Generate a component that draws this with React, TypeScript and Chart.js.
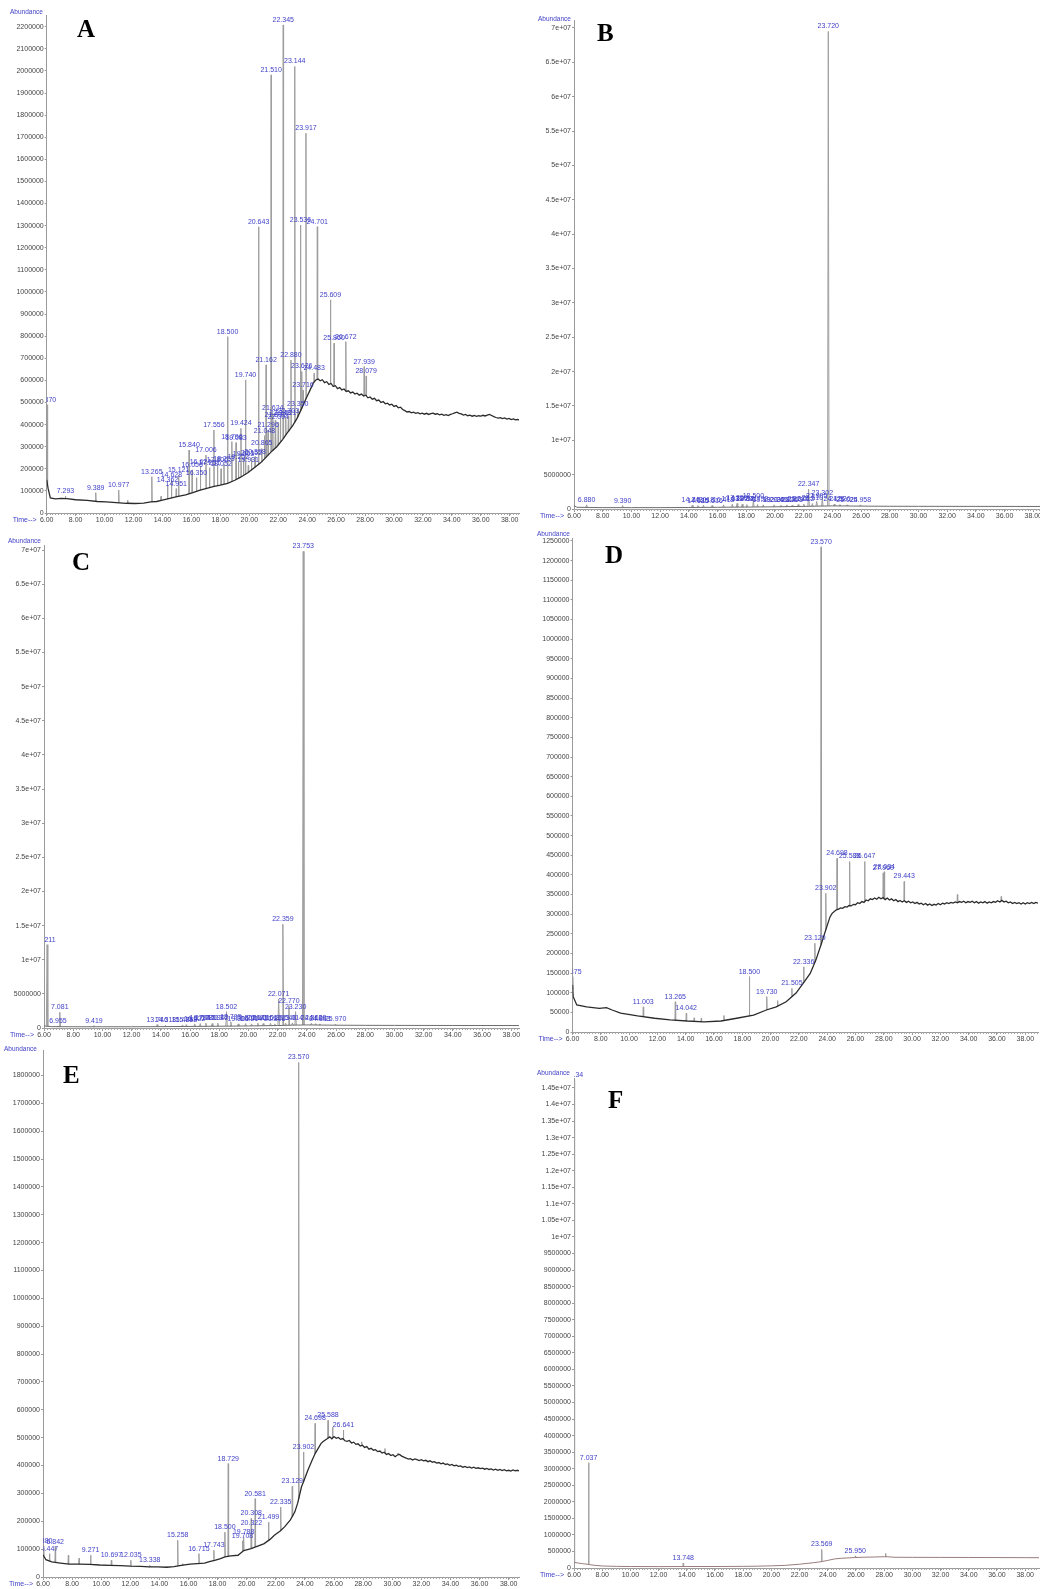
import React, { useEffect, useRef } from 'react';
import { Chart, registerables } from 'chart.js';

Chart.register(...registerables);

// ---------- shared axis data ----------
const xTickVals = [6, 8, 10, 12, 14, 16, 18, 20, 22, 24, 26, 28, 30, 32, 34, 36, 38];
const xTickLabels = ['6.00', '8.00', '10.00', '12.00', '14.00', '16.00', '18.00', '20.00', '22.00', '24.00', '26.00', '28.00', '30.00', '32.00', '34.00', '36.00', '38.00'];

// ---------- Panel A ----------
const yTicksA = [0, 100000, 200000, 300000, 400000, 500000, 600000, 700000, 800000, 900000, 1000000, 1100000, 1200000, 1300000, 1400000, 1500000, 1600000, 1700000, 1800000, 1900000, 2000000, 2100000, 2200000];
const yLabelsA = ['0', '100000', '200000', '300000', '400000', '500000', '600000', '700000', '800000', '900000', '1000000', '1100000', '1200000', '1300000', '1400000', '1500000', '1600000', '1700000', '1800000', '1900000', '2000000', '2100000', '2200000'];
const baseA_headT = [6.0, 6.1, 6.25, 6.6, 7.0, 7.4, 8.0, 8.8, 9.5, 10.1, 10.8, 11.5, 12.1, 12.7, 13.2, 13.6, 14.0, 14.5, 15.0, 15.6, 16.1, 16.6, 17.0, 17.5, 18.0, 18.5, 19.0, 19.4, 19.9, 20.3, 20.8, 21.2, 21.6, 21.9, 22.3, 22.6, 23.0, 23.3, 23.6, 23.8, 24.0, 24.2, 24.4];
const baseA_headV = [150000, 110000, 68000, 64000, 66000, 65000, 60000, 57000, 52000, 50000, 47000, 44000, 43000, 45000, 50000, 52000, 58000, 66000, 74000, 82000, 92000, 103000, 110000, 119000, 126000, 134000, 148000, 162000, 182000, 202000, 228000, 255000, 282000, 300000, 332000, 360000, 395000, 428000, 470000, 500000, 528000, 556000, 585000];
const baseA_tail = [
  [24.6, 602000], [24.75, 606000], [24.9, 598000], [25.05, 603000], [25.2, 590000], [25.35, 594000], [25.5, 582000], [25.65, 586000], [25.8, 572000], [25.95, 576000],
  [26.1, 563000], [26.25, 568000], [26.4, 557000], [26.55, 561000], [26.7, 550000], [26.85, 553000], [27.0, 543000], [27.15, 547000], [27.3, 538000], [27.45, 542000],
  [27.6, 533000], [27.75, 538000], [27.9, 529000], [28.05, 533000], [28.2, 521000], [28.35, 525000], [28.5, 515000], [28.65, 519000], [28.8, 508000], [28.95, 511000],
  [29.1, 500000], [29.25, 504000], [29.4, 494000], [29.55, 497000], [29.7, 489000], [29.85, 492000], [30.0, 482000], [30.15, 486000], [30.3, 476000], [30.45, 479000],
  [30.6, 468000], [30.75, 463000], [30.9, 457000], [31.05, 459000], [31.2, 453000], [31.35, 456000], [31.5, 451000], [31.65, 454000], [31.8, 449000], [31.95, 452000],
  [32.1, 447000], [32.25, 451000], [32.4, 446000], [32.55, 450000], [32.7, 452000], [32.85, 447000], [33.0, 449000], [33.15, 444000], [33.3, 447000], [33.45, 442000],
  [33.6, 445000], [33.75, 441000], [33.9, 446000], [34.05, 449000], [34.2, 453000], [34.35, 456000], [34.5, 451000], [34.65, 448000], [34.8, 443000], [34.95, 446000],
  [35.1, 440000], [35.25, 443000], [35.4, 438000], [35.55, 441000], [35.7, 437000], [35.85, 440000], [36.0, 438000], [36.15, 442000], [36.3, 439000], [36.45, 443000],
  [36.6, 446000], [36.75, 441000], [36.9, 436000], [37.05, 432000], [37.2, 429000], [37.35, 431000], [37.5, 427000], [37.65, 430000], [37.8, 425000], [37.95, 428000],
  [38.1, 423000], [38.25, 426000], [38.4, 421000], [38.55, 423000], [38.7, 419000],
];
const peakA_t = [6.05, 7.293, 8.1, 9.389, 10.977, 11.6, 13.265, 13.9, 14.35, 14.62, 14.95, 15.12, 15.84, 16.05, 16.35, 16.62, 17.006, 17.25, 17.556, 17.8, 18.05, 18.25, 18.5, 18.796, 19.083, 19.25, 19.424, 19.6, 19.74, 19.931, 20.15, 20.4, 20.643, 20.865, 21.05, 21.162, 21.3, 21.51, 21.624, 21.8, 22.0, 22.15, 22.345, 22.52, 22.7, 22.88, 23.144, 23.35, 23.536, 23.626, 23.716, 23.917, 24.483, 24.701, 25.609, 25.86, 26.672, 27.939, 28.079];
const peakA_h = [490000, 76000, 62000, 92000, 104000, 58000, 164000, 75000, 125000, 150000, 110000, 170000, 285000, 195000, 160000, 210000, 262000, 205000, 375000, 215000, 200000, 220000, 798000, 323000, 318000, 230000, 383000, 245000, 602000, 215000, 250000, 255000, 1295000, 292000, 350000, 670000, 375000, 1982000, 452000, 420000, 410000, 430000, 2208000, 430000, 440000, 692000, 2020000, 470000, 1303000, 640000, 556000, 1718000, 632000, 1295000, 964000, 768000, 775000, 662000, 620000];
const peakA_lbl = ['6.370', '7.293', '', '9.389', '10.977', '', '13.265', '', '14.362', '14.628', '14.951', '15.121', '15.840', '16.056', '16.350', '16.624', '17.006', '17.251', '17.556', '17.806', '18.052', '18.253', '18.500', '18.796', '19.083', '19.252', '19.424', '19.603', '19.740', '19.931', '20.152', '20.398', '20.643', '20.865', '21.048', '21.162', '21.296', '21.510', '21.624', '21.802', '22.004', '22.148', '22.345', '22.521', '22.703', '22.880', '23.144', '23.350', '23.536', '23.626', '23.716', '23.917', '24.483', '24.701', '25.609', '25.860', '26.672', '27.939', '28.079'];

// ---------- Panel B ----------
const yTicksBC = [0, 5000000, 10000000, 15000000, 20000000, 25000000, 30000000, 35000000, 40000000, 45000000, 50000000, 55000000, 60000000, 65000000, 70000000];
const yLabelsBC = ['0', '5000000', '1e+07', '1.5e+07', '2e+07', '2.5e+07', '3e+07', '3.5e+07', '4e+07', '4.5e+07', '5e+07', '5.5e+07', '6e+07', '6.5e+07', '7e+07'];
const baseB_t = [6.0, 6.2, 8, 10, 12, 14, 16, 18, 20, 22, 23, 24, 25, 26, 28, 30, 34, 38.5];
const baseB_v = [500000, 250000, 200000, 200000, 200000, 220000, 250000, 280000, 320000, 380000, 420000, 450000, 440000, 420000, 400000, 390000, 380000, 370000];
const peakB_t = [6.88, 9.39, 14.24, 14.63, 15.02, 15.62, 16.42, 17.03, 17.36, 17.72, 18.04, 18.5, 18.79, 19.19, 19.93, 20.41, 20.83, 21.2, 21.62, 22.01, 22.347, 22.61, 22.91, 23.302, 23.72, 24.13, 24.53, 25.024, 25.958];
const peakB_h = [600000, 500000, 550000, 500000, 550000, 500000, 600000, 700000, 800000, 700000, 650000, 1200000, 650000, 600000, 600000, 550000, 600000, 550000, 650000, 700000, 2900000, 800000, 1100000, 1600000, 69500000, 700000, 650000, 600000, 600000];
const peakB_lbl = ['6.880', '9.390', '14.243', '14.625', '15.018', '15.616', '16.418', '17.031', '17.356', '17.720', '18.041', '18.500', '18.792', '19.192', '19.930', '20.412', '20.826', '21.203', '21.615', '22.012', '22.347', '22.610', '22.905', '23.302', '23.720', '24.126', '24.526', '25.024', '25.958'];

// ---------- Panel C ----------
const baseC_t = [6.0, 6.5, 8, 10, 12, 14, 16, 18, 20, 22, 23, 24, 25, 26, 28, 30, 34, 38.6];
const baseC_v = [300000, 200000, 180000, 180000, 180000, 200000, 230000, 260000, 300000, 360000, 420000, 450000, 430000, 410000, 390000, 380000, 370000, 360000];
const peakC_t = [6.211, 6.955, 7.081, 9.419, 13.746, 14.318, 15.485, 15.748, 16.322, 16.704, 17.086, 17.513, 17.902, 18.502, 18.795, 19.301, 19.806, 20.214, 20.643, 21.01, 21.512, 21.806, 22.071, 22.359, 22.548, 22.77, 23.014, 23.23, 23.753, 24.312, 24.608, 24.893, 25.97];
const peakC_h = [12200000, 300000, 2300000, 350000, 500000, 400000, 450000, 500000, 600000, 650000, 700000, 650000, 700000, 2400000, 900000, 600000, 650000, 600000, 700000, 650000, 700000, 600000, 4200000, 15200000, 700000, 3200000, 750000, 2400000, 69800000, 700000, 650000, 600000, 550000];
const peakC_lbl = ['6.211', '6.955', '7.081', '9.419', '13.746', '14.318', '15.485', '15.748', '16.322', '16.704', '17.086', '17.513', '17.902', '18.502', '18.795', '19.301', '19.806', '20.214', '20.643', '21.010', '21.512', '21.806', '22.071', '22.359', '22.548', '22.770', '23.014', '23.230', '23.753', '24.312', '24.608', '24.893', '25.970'];

// ---------- Panel D ----------
const yTicksD = [0, 50000, 100000, 150000, 200000, 250000, 300000, 350000, 400000, 450000, 500000, 550000, 600000, 650000, 700000, 750000, 800000, 850000, 900000, 950000, 1000000, 1050000, 1100000, 1150000, 1200000, 1250000];
const yLabelsD = ['0', '50000', '100000', '150000', '200000', '250000', '300000', '350000', '400000', '450000', '500000', '550000', '600000', '650000', '700000', '750000', '800000', '850000', '900000', '950000', '1000000', '1050000', '1100000', '1150000', '1200000', '1250000'];
const baseD_headT = [6.0, 6.05, 6.3, 7.0, 7.9, 8.4, 8.8, 9.4, 10.6, 11.8, 12.9, 14.1, 15.3, 16.5, 17.6, 18.8, 19.7, 20.4, 21.1, 21.8, 22.3, 22.8, 23.2, 23.6, 23.9];
const baseD_headV = [120000, 90000, 69000, 64000, 60000, 62000, 56000, 48000, 41000, 35000, 31000, 28000, 26000, 28000, 35000, 43000, 56000, 64000, 77000, 99000, 124000, 149000, 183000, 226000, 260000];
const baseD_tail = [
  [24.2, 293000], [24.35, 302000], [24.5, 307000], [24.65, 311000], [24.8, 313000], [24.95, 316000], [25.1, 315000], [25.25, 319000], [25.4, 318000], [25.55, 322000],
  [25.7, 321000], [25.85, 325000], [26.0, 324000], [26.15, 329000], [26.3, 327000], [26.45, 332000], [26.6, 330000], [26.75, 336000], [26.9, 334000], [27.05, 339000],
  [27.2, 337000], [27.35, 341000], [27.5, 338000], [27.65, 343000], [27.8, 339000], [27.95, 342000], [28.1, 337000], [28.25, 341000], [28.4, 336000], [28.55, 339000],
  [28.7, 334000], [28.85, 337000], [29.0, 332000], [29.15, 335000], [29.3, 331000], [29.45, 334000], [29.6, 330000], [29.75, 333000], [29.9, 329000], [30.05, 331000],
  [30.2, 327000], [30.35, 330000], [30.5, 326000], [30.65, 328000], [30.8, 324000], [30.95, 327000], [31.1, 323000], [31.25, 326000], [31.4, 322000], [31.55, 325000],
  [31.7, 323000], [31.85, 327000], [32.0, 324000], [32.15, 328000], [32.3, 326000], [32.45, 329000], [32.6, 327000], [32.75, 330000], [32.9, 328000], [33.05, 331000],
  [33.2, 329000], [33.35, 332000], [33.5, 330000], [33.65, 333000], [33.8, 329000], [33.95, 332000], [34.1, 330000], [34.25, 333000], [34.4, 329000], [34.55, 332000],
  [34.7, 328000], [34.85, 331000], [35.0, 329000], [35.15, 332000], [35.3, 328000], [35.45, 331000], [35.6, 329000], [35.75, 332000], [35.9, 330000], [36.05, 334000],
  [36.2, 331000], [36.35, 335000], [36.5, 331000], [36.65, 333000], [36.8, 329000], [36.95, 331000], [37.1, 327000], [37.25, 330000], [37.4, 327000], [37.55, 329000],
  [37.7, 326000], [37.85, 329000], [38.0, 326000], [38.15, 329000], [38.3, 327000], [38.45, 330000], [38.6, 327000], [38.75, 330000], [38.9, 328000],
];
const peakD_t = [6.02, 11.003, 13.265, 14.042, 14.6, 15.1, 16.7, 18.5, 19.73, 20.5, 21.505, 22.336, 23.129, 23.57, 23.902, 24.698, 25.588, 26.647, 27.96, 28.034, 29.443, 33.2, 36.3];
const peakD_h = [141000, 64000, 77000, 48000, 36000, 35000, 42000, 141000, 90000, 80000, 111000, 166000, 226000, 1235000, 353000, 442000, 434000, 434000, 405000, 408000, 383000, 350000, 345000];
const peakD_lbl = ['6.375', '11.003', '13.265', '14.042', '', '', '', '18.500', '19.730', '', '21.505', '22.336', '23.129', '23.570', '23.902', '24.698', '25.588', '26.647', '27.960', '28.034', '29.443', '', ''];

// ---------- Panel E ----------
const yTicksE = [0, 100000, 200000, 300000, 400000, 500000, 600000, 700000, 800000, 900000, 1000000, 1100000, 1200000, 1300000, 1400000, 1500000, 1600000, 1700000, 1800000];
const yLabelsE = ['0', '100000', '200000', '300000', '400000', '500000', '600000', '700000', '800000', '900000', '1000000', '1100000', '1200000', '1300000', '1400000', '1500000', '1600000', '1700000', '1800000'];
const baseE_headT = [6.0, 6.2, 6.6, 7.2, 7.8, 8.5, 9.2, 9.9, 10.6, 11.3, 12.0, 12.7, 13.3, 13.9, 14.5, 15.0, 15.5, 16.1, 16.6, 17.1, 17.5, 17.8, 18.2, 18.5, 18.9, 19.4, 19.8, 20.3, 20.8, 21.2, 21.6, 21.9, 22.3, 22.6, 23.0, 23.3, 23.5, 23.76, 24.0, 24.2, 24.5, 24.7];
const baseE_headV = [80000, 62000, 54000, 50000, 46000, 46000, 45000, 43000, 42000, 41000, 39000, 38000, 36000, 36000, 35000, 37000, 42000, 46000, 48000, 50000, 56000, 60000, 66000, 72000, 76000, 78000, 95000, 102000, 112000, 120000, 135000, 150000, 165000, 180000, 205000, 233000, 265000, 323000, 355000, 383000, 420000, 443000];
const baseE_tail = [
  [25.1, 479000], [25.25, 486000], [25.4, 492000], [25.55, 497000], [25.7, 503000], [25.85, 496000], [26.0, 504000], [26.15, 498000], [26.3, 501000], [26.45, 494000],
  [26.6, 497000], [26.75, 489000], [26.9, 487000], [27.05, 490000], [27.2, 481000], [27.35, 484000], [27.5, 476000], [27.65, 478000], [27.8, 470000], [27.95, 473000],
  [28.1, 465000], [28.25, 468000], [28.4, 459000], [28.55, 462000], [28.7, 455000], [28.85, 457000], [29.0, 450000], [29.15, 452000], [29.3, 445000], [29.45, 448000],
  [29.6, 440000], [29.75, 443000], [29.9, 436000], [30.05, 439000], [30.2, 432000], [30.35, 438000], [30.5, 440000], [30.65, 434000], [30.8, 430000], [30.95, 427000],
  [31.1, 423000], [31.25, 425000], [31.4, 420000], [31.55, 424000], [31.7, 421000], [31.85, 418000], [32.0, 421000], [32.15, 417000], [32.3, 419000], [32.45, 414000],
  [32.6, 417000], [32.75, 412000], [32.9, 414000], [33.05, 409000], [33.2, 411000], [33.35, 406000], [33.5, 409000], [33.65, 404000], [33.8, 406000], [33.95, 401000],
  [34.1, 404000], [34.25, 399000], [34.4, 401000], [34.55, 397000], [34.7, 399000], [34.85, 394000], [35.0, 397000], [35.15, 393000], [35.3, 395000], [35.45, 391000],
  [35.6, 394000], [35.75, 390000], [35.9, 392000], [36.05, 389000], [36.2, 391000], [36.35, 387000], [36.5, 390000], [36.65, 386000], [36.8, 388000], [36.95, 384000],
  [37.1, 387000], [37.25, 383000], [37.4, 386000], [37.55, 382000], [37.7, 385000], [37.85, 381000], [38.0, 383000], [38.15, 380000], [38.3, 384000], [38.45, 381000],
  [38.6, 383000], [38.75, 380000],
];
const peakE_t = [6.05, 6.447, 6.842, 7.74, 8.48, 9.271, 10.697, 12.035, 13.338, 14.5, 15.258, 15.6, 16.715, 17.743, 18.5, 18.729, 19.708, 19.788, 20.308, 20.322, 20.581, 21.499, 22.335, 23.129, 23.57, 23.902, 24.698, 25.588, 25.9, 26.641, 27.9, 29.5, 30.4];
const peakE_h = [112000, 84000, 108000, 78000, 67000, 78000, 60000, 60000, 42000, 38000, 132000, 48000, 84000, 96000, 161000, 407000, 130000, 143000, 210000, 175000, 281000, 197000, 251000, 326000, 1847000, 449000, 551000, 562000, 538000, 527000, 485000, 461000, 445000];
const peakE_lbl = ['6.380', '6.447', '6.842', '', '', '9.271', '10.697', '12.035', '13.338', '', '15.258', '', '16.715', '17.743', '18.500', '18.729', '19.708', '19.788', '20.308', '20.322', '20.581', '21.499', '22.335', '23.129', '23.570', '23.902', '24.698', '25.588', '', '26.641', '', '', ''];

// ---------- Panel F ----------
const yTicksF = [0, 500000, 1000000, 1500000, 2000000, 2500000, 3000000, 3500000, 4000000, 4500000, 5000000, 5500000, 6000000, 6500000, 7000000, 7500000, 8000000, 8500000, 9000000, 9500000, 10000000, 10500000, 11000000, 11500000, 12000000, 12500000, 13000000, 13500000, 14000000, 14500000];
const yLabelsF = ['0', '500000', '1000000', '1500000', '2000000', '2500000', '3000000', '3500000', '4000000', '4500000', '5000000', '5500000', '6000000', '6500000', '7000000', '7500000', '8000000', '8500000', '9000000', '9500000', '1e+07', '1.05e+07', '1.1e+07', '1.15e+07', '1.2e+07', '1.25e+07', '1.3e+07', '1.35e+07', '1.4e+07', '1.45e+07'];
const baseF_t = [6.0, 6.3, 6.6, 7.0, 7.2, 7.5, 8.0, 9.0, 10.0, 12.0, 14.0, 16.0, 18.0, 19.0, 20.0, 21.0, 22.0, 23.0, 23.6, 24.0, 24.5, 25.0, 25.9, 26.5, 27.3, 28.0, 28.2, 28.7, 30.0, 32.0, 34.0, 36.0, 38.0, 39.0];
const baseF_v = [170000, 150000, 130000, 110000, 95000, 80000, 60000, 50000, 45000, 42000, 45000, 45000, 50000, 55000, 65000, 80000, 115000, 160000, 195000, 230000, 275000, 295000, 315000, 325000, 332000, 340000, 340000, 325000, 322000, 320000, 318000, 315000, 312000, 311000];
const peakF_t = [6.03, 7.037, 13.748, 23.569, 25.95, 28.1];
const peakF_h = [14750000, 3180000, 150000, 560000, 365000, 440000];
const peakF_lbl = ['6.134', '7.037', '13.748', '23.569', '25.950', ''];

// baselines assembled from the read values
const baseA_t = [...baseA_headT, ...baseA_tail.map((p) => p[0])];
const baseA_v = [...baseA_headV, ...baseA_tail.map((p) => p[1])];
const baseD_t = [...baseD_headT, ...baseD_tail.map((p) => p[0])];
const baseD_v = [...baseD_headV, ...baseD_tail.map((p) => p[1])];
const baseE_t = [...baseE_headT, ...baseE_tail.map((p) => p[0])];
const baseE_v = [...baseE_headV, ...baseE_tail.map((p) => p[1])];

// ---------- layout (positions / styles) ----------
const BLUE = '#3f3fc8';
const SANS = '"Liberation Sans", Arial, sans-serif';

const panels = [
  { key: 'A', cl: 0, ct: 0, cw: 520, ch: 527, L: 46.7, R: 519, T: 15, B: 513, xMax: 38.64, yMax: 2253000, yTicks: yTicksA, yLabels: yLabelsA, bt: baseA_t, bv: baseA_v, pt: peakA_t, ph: peakA_h, pl: peakA_lbl, lx: 77, ly: 37, ax: 10, ay: 12.7, baseColor: '#2b2b2b', baseWidth: 1.3, sw: 0.025 },
  { key: 'B', cl: 522, ct: 5, cw: 518, ch: 517, L: 574, R: 1040, T: 20, B: 509, xMax: 38.47, yMax: 71160000, yTicks: yTicksBC, yLabels: yLabelsBC, bt: baseB_t, bv: baseB_v, pt: peakB_t, ph: peakB_h, pl: peakB_lbl, lx: 597, ly: 41, ax: 538, ay: 19.5, baseColor: '#6d6d6d', baseWidth: 1, sw: 0.05 },
  { key: 'C', cl: 0, ct: 528, cw: 520, ch: 513, L: 44, R: 519, T: 545, B: 1028, xMax: 38.53, yMax: 70740000, yTicks: yTicksBC, yLabels: yLabelsBC, bt: baseC_t, bv: baseC_v, pt: peakC_t, ph: peakC_h, pl: peakC_lbl, lx: 72, ly: 570, ax: 8, ay: 541.7, baseColor: '#6d6d6d', baseWidth: 1, sw: 0.05 },
  { key: 'D', cl: 522, ct: 526, cw: 518, ch: 518, L: 572.5, R: 1038, T: 538, B: 1032, xMax: 38.9, yMax: 1257600, yTicks: yTicksD, yLabels: yLabelsD, bt: baseD_t, bv: baseD_v, pt: peakD_t, ph: peakD_h, pl: peakD_lbl, lx: 605, ly: 563, ax: 537, ay: 534.3, baseColor: '#2b2b2b', baseWidth: 1.3, sw: 0.025 },
  { key: 'E', cl: 0, ct: 1042, cw: 520, ch: 547, L: 43, R: 519, T: 1050, B: 1577, xMax: 38.71, yMax: 1891600, yTicks: yTicksE, yLabels: yLabelsE, bt: baseE_t, bv: baseE_v, pt: peakE_t, ph: peakE_h, pl: peakE_lbl, lx: 63, ly: 1083, ax: 4, ay: 1049.3, baseColor: '#2b2b2b', baseWidth: 1.3, sw: 0.025 },
  { key: 'F', cl: 522, ct: 1060, cw: 518, ch: 529, L: 574, R: 1039, T: 1078, B: 1568, xMax: 38.98, yMax: 14800000, yTicks: yTicksF, yLabels: yLabelsF, bt: baseF_t, bv: baseF_v, pt: peakF_t, ph: peakF_h, pl: peakF_lbl, lx: 608, ly: 1108, ax: 537, ay: 1073, baseColor: '#9a7c7c', baseWidth: 1, sw: 0.025 },
];

function baseAt(ts: number[], vs: number[], t: number) {
  if (t <= ts[0]) return vs[0];
  for (let i = 1; i < ts.length; i++) {
    if (t <= ts[i]) {
      const f = (t - ts[i - 1]) / (ts[i] - ts[i - 1]);
      return vs[i - 1] + f * (vs[i] - vs[i - 1]);
    }
  }
  return vs[vs.length - 1];
}

function labelFor(vals: number[], labels: string[], v: number) {
  for (let i = 0; i < vals.length; i++) if (Math.abs(vals[i] - v) < 1e-6) return labels[i];
  return '';
}

function makeOverlay(p: any) {
  return {
    id: 'overlay' + p.key,
    afterDraw(chart: any) {
      const { ctx, chartArea: ca, scales } = chart;
      const xs = scales.x;
      const ys = scales.y;
      ctx.save();
      // minor ticks on time axis
      ctx.strokeStyle = '#a5a5a5';
      ctx.lineWidth = 1;
      ctx.beginPath();
      for (let k = Math.ceil(xs.min * 5); k <= Math.floor(xs.max * 5); k++) {
        const px = Math.round(xs.getPixelForValue(k / 5)) + 0.5;
        ctx.moveTo(px, ca.bottom);
        ctx.lineTo(px, ca.bottom + 2);
      }
      ctx.stroke();
      // Abundance / Time labels
      ctx.fillStyle = BLUE;
      ctx.font = '6.5px ' + SANS;
      ctx.textAlign = 'left';
      ctx.textBaseline = 'middle';
      ctx.fillText('Abundance', p.ax - p.cl, p.ay - p.ct);
      ctx.font = '7px ' + SANS;
      ctx.textAlign = 'right';
      ctx.fillText('Time-->', ca.left - 10, ca.bottom + 7.5);
      // panel letter
      ctx.fillStyle = '#000';
      ctx.font = 'bold 25px "Liberation Serif", "Times New Roman", serif';
      ctx.textAlign = 'left';
      ctx.textBaseline = 'alphabetic';
      ctx.fillText(p.key, p.lx - p.cl, p.ly - p.ct);
      // peak labels
      ctx.beginPath();
      ctx.rect(ca.left, 0, chart.width - ca.left, ca.bottom);
      ctx.clip();
      ctx.fillStyle = BLUE;
      ctx.font = '7px ' + SANS;
      ctx.textAlign = 'center';
      ctx.textBaseline = 'bottom';
      p.pt.forEach((t: number, i: number) => {
        const lbl = p.pl[i];
        if (!lbl) return;
        ctx.fillText(lbl, xs.getPixelForValue(t), ys.getPixelForValue(p.ph[i]) - 1.5);
      });
      ctx.restore();
    },
  };
}

function Panel({ p }: { p: any }) {
  const ref = useRef<HTMLCanvasElement | null>(null);
  useEffect(() => {
    if (!ref.current) return;
    const baseData = p.bt.map((t: number, i: number) => ({ x: t, y: p.bv[i] }));
    const spikeData: any[] = [];
    p.pt.forEach((t: number, i: number) => {
      const foot = baseAt(p.bt, p.bv, t);
      spikeData.push({ x: t - p.sw, y: foot });
      spikeData.push({ x: t, y: p.ph[i] });
      spikeData.push({ x: t + p.sw, y: foot });
      spikeData.push({ x: t + p.sw, y: null });
    });
    const tickFont = { family: SANS, size: 7 };
    const chart = new Chart(ref.current, {
      type: 'line',
      data: {
        datasets: [
          { data: baseData, borderColor: p.baseColor, borderWidth: p.baseWidth, pointRadius: 0, tension: 0, fill: false },
          { data: spikeData, borderColor: '#9e9e9e', borderWidth: 1, pointRadius: 0, tension: 0, fill: false, spanGaps: false },
        ],
      },
      options: {
        animation: false,
        responsive: false,
        events: [],
        layout: { padding: { left: 0, top: p.T - p.ct, right: p.cl + p.cw - p.R, bottom: 0 } },
        plugins: { legend: { display: false }, tooltip: { enabled: false } },
        scales: {
          x: {
            type: 'linear',
            min: 6,
            max: p.xMax,
            afterBuildTicks: (s: any) => {
              s.ticks = xTickVals.map((v) => ({ value: v }));
            },
            afterFit: (s: any) => {
              s.height = p.ct + p.ch - p.B;
              s.paddingLeft = 0;
              s.paddingRight = 0;
            },
            ticks: {
              autoSkip: false,
              maxRotation: 0,
              padding: 0,
              color: '#444',
              font: tickFont,
              callback: (v: any) => labelFor(xTickVals, xTickLabels, Number(v)),
            },
            grid: { drawOnChartArea: false, tickLength: 3, color: '#9a9a9a' },
            border: { color: '#9a9a9a' },
          },
          y: {
            type: 'linear',
            min: 0,
            max: p.yMax,
            afterBuildTicks: (s: any) => {
              s.ticks = p.yTicks.map((v: number) => ({ value: v }));
            },
            afterFit: (s: any) => {
              s.width = p.L - p.cl;
              s.paddingTop = 0;
              s.paddingBottom = 0;
            },
            ticks: {
              autoSkip: false,
              padding: 1,
              color: '#444',
              font: tickFont,
              callback: (v: any) => labelFor(p.yTicks, p.yLabels, Number(v)),
            },
            grid: { drawOnChartArea: false, tickLength: 2, color: '#9a9a9a' },
            border: { color: '#9a9a9a' },
          },
        },
      },
      plugins: [makeOverlay(p)],
    } as any);
    return () => chart.destroy();
  }, [p]);
  return (
    <canvas
      ref={ref}
      width={p.cw}
      height={p.ch}
      style={{ position: 'absolute', left: p.cl, top: p.ct, width: p.cw, height: p.ch }}
    />
  );
}

export default function App() {
  return (
    <div style={{ position: 'absolute', left: 0, top: 0, width: 1040, height: 1589, background: '#fff', overflow: 'hidden' }}>
      {panels.map((p) => (
        <Panel key={p.key} p={p} />
      ))}
    </div>
  );
}
